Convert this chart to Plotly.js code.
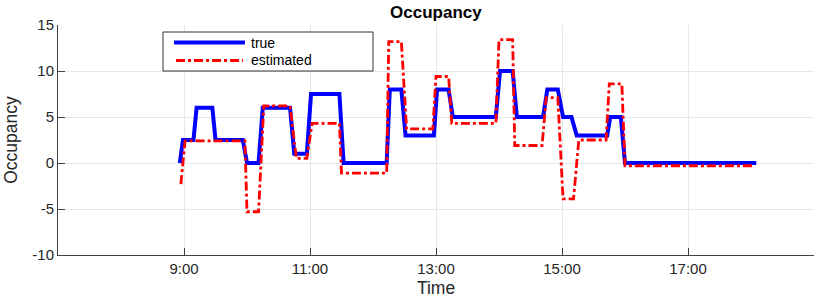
<!DOCTYPE html>
<html>
<head>
<meta charset="utf-8">
<script src="https://cdn.plot.ly/plotly-3.0.1.min.js"></script>
<style>html,body{margin:0;padding:0;background:#fff}#chart{width:814px;height:302px}</style>
</head>
<body>
<div id="chart"></div>
<script>
// ---- data ----
var trueTimes = ['08:56','08:59','09:09','09:12','09:27','09:30','09:56','10:00','10:11','10:15','10:41','10:45','10:57','11:01','11:28','11:32','12:13','12:16','12:27','12:31','12:58','13:01','13:12','13:16','13:57','14:01','14:13','14:17','14:42','14:46','14:56','15:01','15:09','15:14','15:43','15:46','15:56','16:00','18:05'];
var trueValues = [0,2.5,2.5,6,6,2.5,2.5,0,0,6,6,1,1,7.5,7.5,0,0,8,8,3,3,8,8,5,5,10,10,5,5,8,8,5,5,3,3,5,5,0,0];
var estTimes = ['08:57','09:01','09:58','10:00','10:11','10:16','10:41','10:47','10:57','11:02','11:28','11:30','12:13','12:15','12:27','12:32','12:57','13:00','13:12','13:15','13:57','14:00','14:13','14:15','14:41','14:45','14:56','15:01','15:11','15:16','15:42','15:45','15:57','16:00','18:01'];
var estValues = [-2.3,2.4,2.4,-5.3,-5.3,6.2,6.2,0.5,0.5,4.3,4.3,-1.1,-1.1,13.2,13.2,3.7,3.7,9.4,9.4,4.3,4.3,13.4,13.4,1.9,1.9,7.1,7.1,-3.9,-3.9,2.5,2.5,8.6,8.6,-0.3,-0.3];
var seriesNames = ['true','estimated'];
var yTickVals = [-10,-5,0,5,10,15];
var yTickLabels = ['-10','-5','0','5','10','15'];
var xTickLabels = ['9:00','11:00','13:00','15:00','17:00'];
var xTickTimes = ['09:00','11:00','13:00','15:00','17:00'];
var xRange = ['07:00','19:00'];

var day = '2020-01-01 ';
function toDate(t){ return day + t + ':00'; }

var traces = [
  {x: trueTimes.map(toDate), y: trueValues, name: seriesNames[0], mode:'lines',
   line:{color:'#0000ff', width:4}},
  {x: estTimes.map(toDate), y: estValues, name: seriesNames[1], mode:'lines',
   line:{color:'#ff0000', width:2.8, dash:'9px,3px,3px,3px'}}
];

var font = 'Liberation Sans, Arial, Helvetica, sans-serif';
var L = 58, T = 25, W = 756, H = 230;
function px(x){ return (x - L)/W; }
function py(y){ return (T + H - y)/H; }

var layout = {
  width: 814, height: 302,
  margin: {l: L, r: 0, t: T, b: 302 - T - H},
  paper_bgcolor: '#fff', plot_bgcolor: '#fff',
  showlegend: false,
  font: {family: font, color: '#262626'},
  title: {text: 'Occupancy', font: {family: font, size: 17, color: '#000', weight: 'bold'},
          x: 0.5355, xanchor: 'center', y: 0.96, yanchor: 'middle'},
  xaxis: {
    type: 'date', range: xRange.map(toDate),
    tickvals: xTickTimes.map(toDate), ticktext: xTickLabels,
    ticks: 'inside', ticklen: 7, tickcolor: '#404040', tickwidth: 1,
    showline: true, linecolor: '#404040', linewidth: 1, mirror: false,
    showgrid: true, gridcolor: '#e6e6e6', gridwidth: 1, zeroline: false,
    tickfont: {family: font, size: 15, color: '#262626'},
    title: {text: 'Time', font: {family: font, size: 17.5, color: '#262626'}, standoff: 5},
    automargin: false, fixedrange: true
  },
  yaxis: {
    range: [-10, 15], tickvals: yTickVals, ticktext: yTickLabels,
    ticks: 'inside', ticklen: 7, tickcolor: '#404040', tickwidth: 1,
    showline: true, linecolor: '#404040', linewidth: 1, mirror: false,
    showgrid: true, gridcolor: '#e6e6e6', gridwidth: 1, zeroline: false,
    tickfont: {family: font, size: 15, color: '#262626'},
    title: {text: 'Occupancy', font: {family: font, size: 17.5, color: '#262626'}, standoff: 10},
    automargin: false, fixedrange: true
  },
  shapes: [
    {type:'rect', xref:'paper', yref:'paper', x0:px(163), x1:px(373), y0:py(71), y1:py(32),
     line:{color:'#333333', width:1}, fillcolor:'#ffffff', layer:'above'},
    {type:'line', xref:'paper', yref:'paper', x0:px(174), x1:px(245), y0:py(42.5), y1:py(42.5),
     line:{color:'#0000ff', width:4}, layer:'above'},
    {type:'line', xref:'paper', yref:'paper', x0:px(176), x1:px(243), y0:py(60.5), y1:py(60.5),
     line:{color:'#ff0000', width:2.8, dash:'9px,3px,3px,3px'}, layer:'above'}
  ],
  annotations: [
    {xref:'paper', yref:'paper', x:px(249), y:py(43), xanchor:'left', yanchor:'middle',
     text: seriesNames[0], showarrow:false, font:{family:font, size:14, color:'#000'}},
    {xref:'paper', yref:'paper', x:px(249), y:py(60), xanchor:'left', yanchor:'middle',
     text: seriesNames[1], showarrow:false, font:{family:font, size:14, color:'#000'}}
  ]
};

Plotly.newPlot('chart', traces, layout, {displayModeBar: false, staticPlot: true});
</script>
</body>
</html>
